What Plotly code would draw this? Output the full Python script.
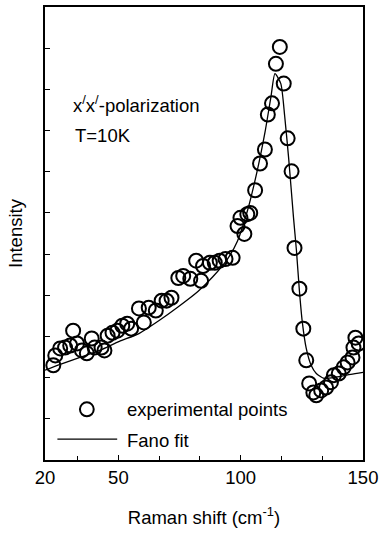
import plotly.graph_objects as go

# Experimental points (Raman shift in cm^-1, intensity in arb. units)
exp_x = [23.4, 24.2, 26.2, 28.2, 30.3, 31.5, 33.1, 35.1, 37.1, 39.1, 40.3, 43.1, 44.3, 45.6,
         47.6, 49.6, 51.6, 53.6, 55.2, 58.4, 60.4, 62.4, 65.3, 67.7, 69.7, 71.7, 74.5, 76.5,
         79.4, 81.8, 83.8, 84.6, 87.4, 89.4, 91.4, 93.8, 96.7, 98.7, 99.9, 101.5, 102.7, 103.9,
         105.9, 107.9, 109.9, 111.1, 112.8, 114.4, 116.0, 117.6, 119.2, 120.8, 122.0, 124.0,
         125.6, 126.8, 128.0, 129.7, 130.9, 132.9, 134.9, 136.9, 138.1, 140.1, 142.1, 143.7,
         145.7, 146.1, 146.9, 148.2]
exp_y = [2.30, 2.54, 2.71, 2.73, 2.78, 3.14, 2.83, 2.66, 2.59, 2.95, 2.73, 2.73, 2.66, 3.02,
         3.09, 3.14, 3.26, 3.31, 3.19, 3.68, 3.34, 3.70, 3.63, 3.87, 3.87, 3.94, 4.42, 4.47,
         4.40, 4.84, 4.35, 4.71, 4.79, 4.79, 4.84, 4.88, 4.91, 5.68, 5.88, 5.49, 5.97, 6.00,
         6.55, 7.20, 7.54, 8.39, 8.66, 9.62, 10.03, 9.14, 7.81, 7.01, 5.15, 4.16,
         3.19, 2.42, 1.86, 1.64, 1.57, 1.69, 1.76, 1.89, 2.06, 2.10, 2.25, 2.37,
         2.49, 2.73, 2.97, 2.83]

# Fano fit curve
fit_x = [20.0, 26.2, 34.3, 42.3, 50.4, 58.4, 66.5, 74.5, 82.5, 88.6, 94.6, 98.7, 102.7,
         106.7, 110.0, 112.4, 114.0, 116.4, 118.0, 119.6, 121.6, 122.8, 124.0, 125.2, 126.8,
         128.8, 130.9, 134.1, 139.0, 145.0, 150.0]
fit_y = [2.18, 2.32, 2.49, 2.66, 2.88, 3.07, 3.38, 3.72, 4.09, 4.45, 4.88, 5.32, 6.04,
         7.01, 7.98, 8.83, 9.38, 9.14, 8.34, 7.33, 5.88, 5.08, 4.11, 3.34, 2.71,
         2.30, 2.10, 1.98, 2.01, 2.08, 2.13]

x_tickvals = [20, 50, 100, 150]
x_ticktext = ["20", "50", "100", "150"]
x_minor_tickvals = [33.33, 66.67, 83.33, 116.67, 133.33]
y_tickvals = [1, 2, 3, 4, 5, 6, 7, 8, 9, 10]

FONT = "Liberation Sans, Arial, sans-serif"
FS = 18.5

fig = go.Figure()
fig.add_trace(go.Scatter(
    x=fit_x, y=fit_y, mode="lines", name="Fano fit",
    line=dict(color="black", width=1.3, shape="spline", smoothing=0.6),
    showlegend=False))
fig.add_trace(go.Scatter(
    x=exp_x, y=exp_y, mode="markers", name="experimental points",
    marker=dict(symbol="circle-open", size=14, color="black", line=dict(width=2, color="black")),
    showlegend=False))

# legend drawn inside the plot (paper coordinates)
fig.add_shape(type="circle", xref="paper", yref="paper",
              x0=0.1316 - 0.0217, x1=0.1316 + 0.0217, y0=0.112 - 0.0154, y1=0.112 + 0.0154,
              line=dict(color="black", width=2))
fig.add_shape(type="line", xref="paper", yref="paper",
              x0=0.039, x1=0.227, y0=0.046, y1=0.046, line=dict(color="black", width=1.3))
fig.add_annotation(xref="paper", yref="paper", x=0.252, y=0.112, xanchor="left", yanchor="middle",
                   text="experimental points", showarrow=False, font=dict(size=FS, color="black", family=FONT))
fig.add_annotation(xref="paper", yref="paper", x=0.252, y=0.044, xanchor="left", yanchor="middle",
                   text="Fano fit", showarrow=False, font=dict(size=FS, color="black", family=FONT))

fig.add_annotation(xref="paper", yref="paper", x=0.082, y=0.785, xanchor="left", yanchor="middle",
                   text="x<sup>/</sup>x<sup>/</sup>-polarization", showarrow=False,
                   font=dict(size=FS, color="black", family=FONT))
fig.add_annotation(xref="paper", yref="paper", x=0.088, y=0.716, xanchor="left", yanchor="middle",
                   text="T=10K", showarrow=False, font=dict(size=FS, color="black", family=FONT))

fig.update_layout(
    width=383, height=536,
    margin=dict(l=44.5, r=15.5, t=5, b=76),
    paper_bgcolor="white", plot_bgcolor="white",
    font=dict(family=FONT, size=FS, color="black"),
    xaxis=dict(range=[20, 150], tickmode="array", tickvals=x_tickvals, ticktext=x_ticktext,
               ticks="inside", ticklen=5, tickwidth=1.2, tickcolor="black",
               minor=dict(tickmode="array", tickvals=x_minor_tickvals, ticks="inside",
                          ticklen=4, tickwidth=1.2, tickcolor="black", showgrid=False),
               showline=True, linecolor="black", linewidth=1.5, mirror=True,
               showgrid=False, zeroline=False,
               title=dict(text="Raman shift (cm<sup>-1</sup>)", standoff=24, font=dict(size=FS))),
    yaxis=dict(range=[0, 11], tickmode="array", tickvals=y_tickvals, showticklabels=False,
               ticks="inside", ticklen=5, tickwidth=1.2, tickcolor="black",
               showline=True, linecolor="black", linewidth=1.5, mirror=True,
               showgrid=False, zeroline=False,
               title=dict(text="Intensity", standoff=16, font=dict(size=FS))),
)

fig.write_html("out.html")
